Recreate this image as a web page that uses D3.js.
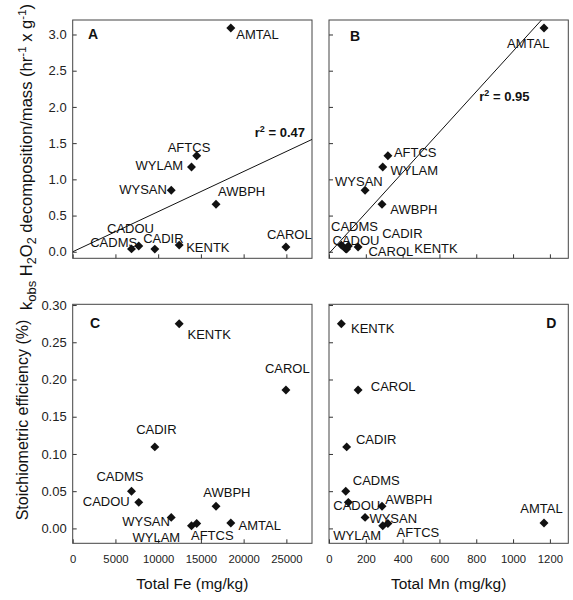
<!DOCTYPE html>
<html>
<head>
<meta charset="utf-8">
<script src="https://cdn.jsdelivr.net/npm/d3@7"></script>
<style>
  html, body { margin: 0; padding: 0; background: #fff; }
  svg { display: block; font-family: "Liberation Sans", Arial, sans-serif; }
</style>
</head>
<body>
<svg id="chart" width="573" height="600"></svg>
<script>
// ---------------- DATA ----------------
const sites      = ["AMTAL", "AFTCS", "WYLAM", "WYSAN", "AWBPH", "CADMS", "CADOU", "CADIR", "KENTK", "CAROL"];
const totalFe    = [18500, 14510, 13900, 11530, 16770, 6880, 7730, 9610, 12460, 24950];      // mg/kg
const totalMn    = [1168, 320, 292, 196, 288, 91, 105, 96, 67, 158];                          // mg/kg
const kobsMass   = [3.09, 1.325, 1.17, 0.85, 0.655, 0.04, 0.08, 0.037, 0.092, 0.065];        // hr^-1 g^-1
const efficiency = [0.0072, 0.0065, 0.0035, 0.0148, 0.0298, 0.050, 0.035, 0.1095, 0.275, 0.186]; // %

const feTicks  = [0, 5000, 10000, 15000, 20000, 25000];
const mnTicks  = [0, 200, 400, 600, 800, 1000, 1200];
const kTicks   = [0.0, 0.5, 1.0, 1.5, 2.0, 2.5, 3.0];
const effTicks = [0.00, 0.05, 0.10, 0.15, 0.20, 0.25, 0.30];

const fitFe = { slope: 5.54e-5, intercept: 0.0, r2: "0.47" };
const fitMn = { slope: 0.002792, intercept: -0.023, r2: "0.95" };

// ---------------- LAYOUT (label placement, pixels relative to each point) ----------------
const labelOffsets = {
  A: { AMTAL:[5.5,11], AFTCS:[-29,-4], WYLAM:[-56,3], WYSAN:[-52,3.5], AWBPH:[2,-8],
       CADOU:[-31.7,-12.7], CADMS:[-41.3,-2], CADIR:[-11.7,-6.3], KENTK:[7,7.3], CAROL:[-19,-8] },
  B: { AMTAL:[-37,20], AFTCS:[6,1], WYLAM:[7.7,8.3], WYSAN:[-30,-4.3], AWBPH:[8.3,10],
       CADMS:[-14.7,-18], CADOU:[-15.8,-1], CADIR:[35.5,-10.7], CAROL:[10.4,9], KENTK:[73,8.3] },
  C: { KENTK:[8.3,15.3], CAROL:[-21,-16.7], CADIR:[-18.7,-13.3], CADMS:[-35,-10.3], CADOU:[-56,3.3],
       AWBPH:[-12.7,-9.3], WYSAN:[-49,8.7], WYLAM:[-59,16.3], AFTCS:[-5.7,16], AMTAL:[7.7,7.3] },
  D: { KENTK:[9.7,9.7], CAROL:[12.7,1], CADIR:[9.3,-2.7], CADMS:[7,-6], CADOU:[-15,7.7],
       AWBPH:[3.3,-2], WYSAN:[4.3,5.4], WYLAM:[-49.4,14], AFTCS:[8.7,13.6], AMTAL:[-23.7,-10] }
};

const colL = [72.7, 312], colR = [329, 568.3];
const rowT = [258.3, 20], rowB = [543.3, 304.3];

const svg = d3.select("#chart");
const ink = "#111";

const xFeL = d3.scaleLinear().domain([0, 28000]).range(colL);
const xMnR = d3.scaleLinear().domain([0, 1300]).range(colR);
const yK   = d3.scaleLinear().domain([-0.09, 3.2]).range(rowT);
const yE   = d3.scaleLinear().domain([-0.02, 0.301]).range(rowB);

const rows = sites.map((s, i) => ({ site: s, fe: totalFe[i], mn: totalMn[i], k: kobsMass[i], eff: efficiency[i] }));

const diamond = d3.symbol().type(d3.symbolSquare).size(40)();

function panel(id, x, y, xKey, yKey, xTicks, yTicks, showX, showY, yFmt, letter, letterPos, fit, fitPos) {
  const g = svg.append("g").attr("class", "panel-" + id);
  const [x0, x1] = x.range();
  const [y0, y1] = y.range();

  const clipId = "clip-" + id;
  svg.append("defs").append("clipPath").attr("id", clipId)
    .append("rect").attr("x", x0).attr("y", y1).attr("width", x1 - x0).attr("height", y0 - y1);

  // x axis (inward ticks)
  const ax = d3.axisBottom(x).tickValues(xTicks).tickSize(-4).tickSizeOuter(0).tickPadding(12)
    .tickFormat(showX ? d3.format("d") : () => "");
  const gx = g.append("g").attr("transform", `translate(0,${y0})`).call(ax);
  gx.select(".domain").remove();
  gx.selectAll("line").attr("stroke", "#333");
  gx.selectAll("text").attr("font-size", 11.3).attr("fill", "#222")
    .attr("font-family", "Liberation Sans, Arial, sans-serif");

  // y axis (inward ticks)
  const ay = d3.axisLeft(y).tickValues(yTicks).tickSize(-4).tickSizeOuter(0).tickPadding(6)
    .tickFormat(showY ? d3.format(yFmt) : () => "");
  const gy = g.append("g").attr("transform", `translate(${x0},0)`).call(ay);
  gy.select(".domain").remove();
  gy.selectAll("line").attr("stroke", "#333");
  gy.selectAll("text").attr("font-size", 13).attr("fill", "#222")
    .attr("font-family", "Liberation Sans, Arial, sans-serif");

  // frame
  g.append("rect").attr("x", x0).attr("y", y1).attr("width", x1 - x0).attr("height", y0 - y1)
    .attr("fill", "none").attr("stroke", "#444").attr("stroke-width", 1);

  // regression line
  if (fit) {
    const xd = x.domain();
    g.append("line").attr("clip-path", `url(#${clipId})`)
      .attr("x1", x(xd[0])).attr("y1", y(fit.intercept + fit.slope * xd[0]))
      .attr("x2", x(xd[1])).attr("y2", y(fit.intercept + fit.slope * xd[1]))
      .attr("stroke", ink).attr("stroke-width", 1);
    const t = g.append("text").attr("x", fitPos[0]).attr("y", fitPos[1])
      .attr("text-anchor", fitPos[2]).attr("font-size", 13).attr("font-weight", "bold").attr("fill", ink);
    t.append("tspan").text("r");
    t.append("tspan").attr("dy", -5).attr("font-size", 9).text("2");
    t.append("tspan").attr("dy", 5).text(" = " + fit.r2);
  }

  // points
  g.selectAll("path.pt").data(rows).join("path").attr("class", "pt")
    .attr("d", diamond)
    .attr("transform", d => `translate(${x(d[xKey])},${y(d[yKey])}) rotate(45)`)
    .attr("fill", ink);

  // labels
  g.selectAll("text.lbl").data(rows).join("text").attr("class", "lbl")
    .attr("x", d => x(d[xKey]) + labelOffsets[id][d.site][0])
    .attr("y", d => y(d[yKey]) + labelOffsets[id][d.site][1])
    .attr("font-size", 13).attr("fill", "#111")
    .text(d => d.site);

  // panel letter
  g.append("text").attr("x", letterPos[0]).attr("y", letterPos[1]).attr("text-anchor", letterPos[2])
    .attr("font-size", 14).attr("font-weight", "bold").attr("fill", ink).text(letter);
}

panel("A", xFeL, yK, "fe", "k",   feTicks, kTicks,   false, true,  ".1f", "A", [colL[0] + 15.3, rowT[1] + 19, "start"], fitFe, [305, 136.7, "end"]);
panel("B", xMnR, yK, "mn", "k",   mnTicks, kTicks,   false, false, ".1f", "B", [colR[0] + 21, rowT[1] + 20.7, "start"], fitMn, [479.3, 101, "start"]);
panel("C", xFeL, yE, "fe", "eff", feTicks, effTicks, true,  true,  ".2f", "C", [colL[0] + 17.3, rowB[1] + 23.4, "start"], null, null);
panel("D", xMnR, yE, "mn", "eff", mnTicks, effTicks, true,  false, ".2f", "D", [colR[1] - 12, rowB[1] + 23.7, "end"], null, null);

// axis titles
svg.append("text").attr("x", d3.mean(colL)).attr("y", 589).attr("text-anchor", "middle")
  .attr("font-size", 15.5).attr("fill", "#111").text("Total Fe (mg/kg)");
svg.append("text").attr("x", d3.mean(colR)).attr("y", 589).attr("text-anchor", "middle")
  .attr("font-size", 15.5).attr("fill", "#111").text("Total Mn (mg/kg)");

svg.append("text").attr("transform", "translate(28,420) rotate(-90)").attr("text-anchor", "middle")
  .attr("font-size", 16).attr("fill", "#111").text("Stoichiometric efficiency (%)");

const yt = svg.append("text").attr("transform", "translate(32,157) rotate(-90)").attr("text-anchor", "middle")
  .attr("font-size", 16.6).attr("fill", "#111");
yt.append("tspan").text("k");
yt.append("tspan").attr("dy", 4).attr("font-size", 13).text("obs");
yt.append("tspan").attr("dy", -4).text(" H");
yt.append("tspan").attr("dy", 4).attr("font-size", 12.5).text("2");
yt.append("tspan").attr("dy", -4).text("O");
yt.append("tspan").attr("dy", 4).attr("font-size", 12.5).text("2");
yt.append("tspan").attr("dy", -4).text(" decomposition/mass (hr");
yt.append("tspan").attr("dy", -6).attr("font-size", 11.5).text("-1");
yt.append("tspan").attr("dy", 6).text(" x g");
yt.append("tspan").attr("dy", -6).attr("font-size", 11.5).text("-1");
yt.append("tspan").attr("dy", 6).text(")");
</script>
</body>
</html>
